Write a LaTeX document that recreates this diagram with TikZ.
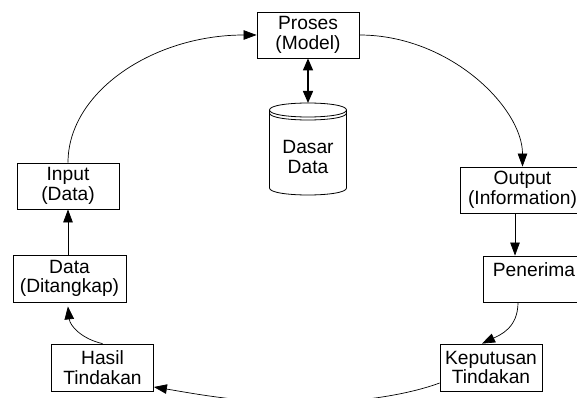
\documentclass[tikz,border=0pt]{standalone}
\usepackage{fontspec}
\setmainfont{Liberation Sans}
\usetikzlibrary{arrows.meta}
\begin{document}
\begin{tikzpicture}[x=1pt,y=-1pt,
  box/.style={draw, line width=0.8pt, inner sep=0pt, align=center,
    font=\fontsize{19.2}{19.5}\selectfont},
  lbl/.style={inner sep=0pt, align=center, font=\fontsize{19.2}{19.5}\selectfont},
  conn/.style={line width=0.7pt, -{Triangle[length=13pt,width=9.5pt]}},
  dbl/.style={line width=1.4pt, {Triangle[length=12pt,width=10pt]}-{Triangle[length=12pt,width=10pt]}},
  cyl/.style={line width=0.8pt}
]
\useasboundingbox (0,0) rectangle (577,398);
\clip (0,0) rectangle (577,398);

% boxes
\node[box, minimum width=102pt, minimum height=46pt] (proses) at (308,35) {Proses\\(Model)};
\node[box, minimum width=102pt, minimum height=46pt] (input) at (68,186) {Input\\(Data)};
\node[box, minimum width=113pt, minimum height=47pt] (data) at (69.5,278.5) {Data\\(Ditangkap)};
\node[box, minimum width=102pt, minimum height=47pt] (hasil) at (102.5,367.5) {Hasil\\Tindakan};
\node[box, minimum width=102pt, minimum height=47pt] (keputusan) at (491,367.5) {Keputusan\\Tindakan};
\node[box, minimum width=125pt, minimum height=46pt] (output) at (522.5,190) {Output\\(Information)};
\node[box, minimum width=102pt, minimum height=46pt] (penerima) at (534,279) {Penerima\\\phantom{P}};

% database cylinder
\coordinate (dbtop) at (308,103);
\draw[cyl] (269.5,110) .. controls (269.5,100.67) and (346.5,100.67) .. (346.5,110)
           .. controls (346.5,119.33) and (269.5,119.33) .. (269.5,110) -- cycle;
\draw[cyl] (269.5,113) .. controls (269.5,122.33) and (346.5,122.33) .. (346.5,113);
\draw[cyl] (269.5,110) -- (269.5,188) .. controls (269.5,197.33) and (346.5,197.33) .. (346.5,188) -- (346.5,110);
\node[lbl] (db) at (308,157) {Dasar\\Data};

% connectors
\draw[dbl] (proses.south) -- (dbtop);
\draw[conn] (input.north) .. controls (68,92) and (153,35) .. (proses.west);
\draw[conn] (proses.east) .. controls (450,35) and (522.5,108) .. (output.north);
\draw[conn] ([xshift=-7.5pt]output.south) -- ([xshift=-7.5pt]output.south |- penerima.north);
\draw[conn] ([xshift=-16pt]penerima.south) .. controls (518,328) and (500,335) .. ([xshift=-9pt]keputusan.north);
\coordinate (bot) at (300,403);
\draw[conn] ([yshift=-15.5pt]keputusan.west) .. controls (410,394) and (360,403) .. (bot)
            .. controls (240,403) and (185,392) .. ([yshift=-19.5pt]hasil.east);
\draw[conn, shorten >=4pt] (hasil.north) .. controls (82,339) and (70,326) .. ([xshift=-2pt]data.south);
\draw[conn] (input.south |- data.north) -- (input.south);
\end{tikzpicture}
\end{document}
